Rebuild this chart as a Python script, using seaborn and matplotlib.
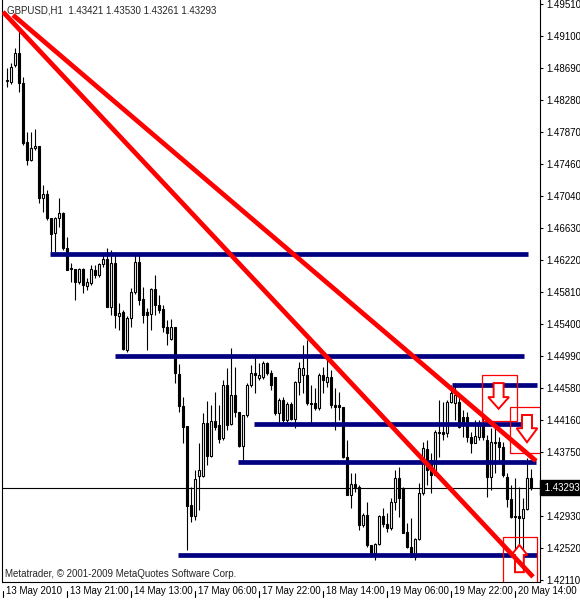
import numpy as np
import pandas as pd
import matplotlib
matplotlib.use("Agg")
import matplotlib.pyplot as plt
import matplotlib.transforms as mtrans
from matplotlib.patches import Rectangle, Polygon
import seaborn as sns

# GBPUSD H1 bars, 13 May 2010 - 20 May 2010
opens = [1.4852, 1.4851, 1.4873, 1.4888, 1.4850, 1.4774, 1.4751, 1.4766, 1.4769, 1.4702,
         1.4707, 1.4676, 1.4657, 1.4676, 1.4683, 1.4638, 1.4612, 1.4611, 1.4594, 1.4611,
         1.4589, 1.4593, 1.4609, 1.4603, 1.4617, 1.4624, 1.4562, 1.4618, 1.4550, 1.4555,
         1.4507, 1.4548, 1.4581, 1.4620, 1.4572, 1.4555, 1.4553, 1.4585, 1.4564, 1.4559,
         1.4536, 1.4521, 1.4536, 1.4476, 1.4435, 1.4409, 1.4307, 1.4293, 1.4345, 1.4345,
         1.4413, 1.4370, 1.4415, 1.4410, 1.4394, 1.4462, 1.4412, 1.4449, 1.4427, 1.4383,
         1.4423, 1.4462, 1.4477, 1.4471, 1.4472, 1.4490, 1.4477, 1.4472, 1.4426, 1.4442,
         1.4417, 1.4437, 1.4418, 1.4465, 1.4474, 1.4474, 1.4438, 1.4438, 1.4432, 1.4474,
         1.4465, 1.4472, 1.4436, 1.4436, 1.4433, 1.4369, 1.4320, 1.4334, 1.4331, 1.4282,
         1.4295, 1.4256, 1.4246, 1.4257, 1.4293, 1.4283, 1.4278, 1.4311, 1.4342, 1.4329,
         1.4273, 1.4253, 1.4241, 1.4264, 1.4323, 1.4379, 1.4365, 1.4346, 1.4401, 1.4401,
         1.4400, 1.4440, 1.4438, 1.4440, 1.4421, 1.4421, 1.4395, 1.4387, 1.4395, 1.4410,
         1.4391, 1.4343, 1.4388, 1.4388, 1.4382, 1.4343, 1.4315, 1.4293, 1.4293, 1.4291,
         1.4302, 1.43421]
highs = [1.4869, 1.4875, 1.4895, 1.4917, 1.4857, 1.4787, 1.4787, 1.4791, 1.4769, 1.4719,
         1.4712, 1.4676, 1.4678, 1.4702, 1.4684, 1.4652, 1.4618, 1.4611, 1.4612, 1.4612,
         1.4599, 1.4616, 1.4616, 1.4618, 1.4631, 1.4638, 1.4635, 1.4633, 1.4567, 1.4558,
         1.4550, 1.4586, 1.4631, 1.4631, 1.4588, 1.4561, 1.4586, 1.4603, 1.4577, 1.4564,
         1.4545, 1.4546, 1.4536, 1.4489, 1.4446, 1.4409, 1.4331, 1.4352, 1.4387, 1.4426,
         1.4441, 1.4436, 1.4453, 1.4436, 1.4468, 1.4483, 1.4509, 1.4485, 1.4427, 1.4423,
         1.4464, 1.4487, 1.4498, 1.4490, 1.4492, 1.4491, 1.4481, 1.4472, 1.4445, 1.4446,
         1.4440, 1.4440, 1.4467, 1.4491, 1.4513, 1.4519, 1.4462, 1.4458, 1.4477, 1.4485,
         1.4496, 1.4481, 1.4458, 1.4453, 1.4433, 1.4391, 1.4349, 1.4349, 1.4333, 1.4297,
         1.4311, 1.4256, 1.4259, 1.4295, 1.4303, 1.4297, 1.4316, 1.4352, 1.4356, 1.4331,
         1.4284, 1.4291, 1.4265, 1.4336, 1.4388, 1.4391, 1.4374, 1.4404, 1.4442, 1.4440,
         1.4442, 1.4462, 1.4464, 1.4449, 1.4430, 1.4427, 1.4401, 1.4417, 1.4417, 1.4426,
         1.4397, 1.4406, 1.4408, 1.4395, 1.4388, 1.4349, 1.4333, 1.4342, 1.4331, 1.4316,
         1.4368, 1.43530]
lows = [1.4845, 1.4848, 1.4870, 1.4838, 1.4770, 1.4744, 1.4749, 1.4764, 1.4695, 1.4684,
        1.4674, 1.4633, 1.4633, 1.4665, 1.4635, 1.4609, 1.4594, 1.4571, 1.4591, 1.4580,
        1.4584, 1.4590, 1.4599, 1.4600, 1.4613, 1.4562, 1.4552, 1.4535, 1.4532, 1.4507,
        1.4504, 1.4536, 1.4579, 1.4564, 1.4541, 1.4507, 1.4532, 1.4552, 1.4554, 1.4530,
        1.4513, 1.4519, 1.4464, 1.4427, 1.4387, 1.4250, 1.4286, 1.4288, 1.4301, 1.4343,
        1.4359, 1.4369, 1.4404, 1.4387, 1.4391, 1.4404, 1.4410, 1.4421, 1.4382, 1.4363,
        1.4421, 1.4459, 1.4451, 1.4468, 1.4469, 1.4474, 1.4455, 1.4423, 1.4414, 1.4414,
        1.4414, 1.4417, 1.4406, 1.4449, 1.4451, 1.4436, 1.4410, 1.4430, 1.4430, 1.4451,
        1.4459, 1.4432, 1.4404, 1.4417, 1.4368, 1.4320, 1.4304, 1.4324, 1.4275, 1.4279,
        1.4253, 1.4241, 1.4237, 1.4256, 1.4279, 1.4273, 1.4275, 1.4301, 1.4292, 1.4271,
        1.4252, 1.4241, 1.4237, 1.4262, 1.4320, 1.4333, 1.4323, 1.4346, 1.4369, 1.4391,
        1.4395, 1.4438, 1.4417, 1.4406, 1.4395, 1.4388, 1.4374, 1.4387, 1.4391, 1.4391,
        1.4318, 1.4327, 1.4349, 1.4361, 1.4343, 1.4305, 1.4291, 1.4247, 1.4247, 1.4225,
        1.4301, 1.43261]
closes = [1.4854, 1.4870, 1.4888, 1.4850, 1.4773, 1.4751, 1.4766, 1.4769, 1.4702, 1.4707,
          1.4676, 1.4656, 1.4676, 1.4683, 1.4638, 1.4609, 1.4611, 1.4594, 1.4611, 1.4590,
          1.4594, 1.4611, 1.4603, 1.4617, 1.4624, 1.4562, 1.4618, 1.4552, 1.4554, 1.4508,
          1.4548, 1.4581, 1.4620, 1.4571, 1.4552, 1.4552, 1.4585, 1.4564, 1.4558, 1.4536,
          1.4528, 1.4536, 1.4477, 1.4435, 1.4408, 1.4306, 1.4293, 1.4341, 1.4352, 1.4413,
          1.4370, 1.4415, 1.4408, 1.4392, 1.4462, 1.4410, 1.4449, 1.4427, 1.4383, 1.4423,
          1.4462, 1.4477, 1.4474, 1.4474, 1.4490, 1.4477, 1.4462, 1.4426, 1.4442, 1.4417,
          1.4437, 1.4418, 1.4465, 1.4483, 1.4483, 1.4438, 1.4437, 1.4432, 1.4474, 1.4468,
          1.4472, 1.4436, 1.4433, 1.4433, 1.4369, 1.4320, 1.4334, 1.4331, 1.4282, 1.4295,
          1.4256, 1.4246, 1.4257, 1.4293, 1.4283, 1.4278, 1.4311, 1.4342, 1.4316, 1.4271,
          1.4253, 1.4241, 1.4264, 1.4323, 1.4381, 1.4352, 1.4346, 1.4401, 1.4400, 1.4399,
          1.4440, 1.4451, 1.4449, 1.4408, 1.4410, 1.4395, 1.4387, 1.4396, 1.4410, 1.4395,
          1.4343, 1.4388, 1.4387, 1.4382, 1.4346, 1.4315, 1.4292, 1.4292, 1.4291, 1.4302,
          1.4342, 1.43293]

last_price = 1.43293
header = "GBPUSD,H1  1.43421 1.43530 1.43261 1.43293"

time_labels = ["13 May 2010", "13 May 21:00", "14 May 13:00", "17 May 06:00", "17 May 22:00",
               "18 May 14:00", "19 May 06:00", "19 May 22:00", "20 May 14:00"]
time_pos = [-1, 15, 31, 47, 63, 79, 95, 111, 127]

price_ticks = [1.49510, 1.49100, 1.48690, 1.48280, 1.47870, 1.47460, 1.47040, 1.46630,
               1.46220, 1.45810, 1.45400, 1.44990, 1.44580, 1.44160, 1.43750, 1.43340,
               1.42930, 1.42520, 1.42110]

# horizontal levels: price, first bar, last bar
level_price = [1.4630, 1.4499, 1.4462, 1.4412, 1.4363, 1.4243]
level_start = [10.75, 27, 111.25, 61.75, 57.75, 42.75]
level_end = [130.25, 129.25, 132.5, 131.25, 132.25, 132.5]

# trend lines: bar / price at both ends
trend_bar0 = [-1, 1.5]
trend_bar1 = [131.5, 132.25]
trend_p0 = [1.4941, 1.4937]
trend_p1 = [1.4215, 1.4364]

# red boxes around the signals
box_bar0 = [118.75, 125.75, 124]
box_bar1 = [127.5, 134.5, 132.5]
box_top = [1.4474, 1.4433, 1.4266]
box_bot = [1.4415, 1.4374, 1.4205]

# signal arrows: centre bar, tail, neck, tip, stem / head half widths
arrow_bar = [122.9, 130.0, 128.1]
arrow_tail = [1.4464, 1.4423, 1.4221]
arrow_neck = [1.4446, 1.4406, 1.4243]
arrow_tip = [1.4431, 1.4388, 1.4256]
arrow_sw = [1.25, 1.25, 1.1]
arrow_hw = [2.6, 2.6, 2.0]

sns.set_style("white")
plt.rcParams['font.family'] = ['Liberation Sans', 'DejaVu Sans']
plt.rcParams['font.size'] = 7

fig = plt.figure(figsize=(5.8, 6.0), dpi=100)
ax = fig.add_axes([2/580, 18/600, 538/580, 582/600])

o = np.array(opens)
c = np.array(closes)
x = np.arange(len(o))
up = c >= o
bot = np.minimum(o, c)
h = np.maximum(np.abs(c - o), 0.00003)

ax.vlines(x, lows, highs, color='black', lw=0.8, zorder=2)
ax.bar(x[up], h[up], bottom=bot[up], width=0.6, color='white', edgecolor='black', lw=0.8, zorder=3)
ax.bar(x[~up], h[~up], bottom=bot[~up], width=0.6, color='black', edgecolor='black', lw=0.8, zorder=3)

# current price line
ax.axhline(last_price, color='black', lw=0.8, zorder=1)

lev = pd.DataFrame({'bar': np.ravel(np.column_stack([level_start, level_end])),
                    'price': np.repeat(level_price, 2),
                    'level': np.repeat(np.arange(len(level_price)), 2)})
sns.lineplot(data=lev, x='bar', y='price', units='level', estimator=None, sort=False,
             color='#000080', lw=3.4, solid_capstyle='butt', legend=False, ax=ax, zorder=4)

tr = pd.DataFrame({'bar': np.ravel(np.column_stack([trend_bar0, trend_bar1])),
                   'price': np.ravel(np.column_stack([trend_p0, trend_p1])),
                   'line': np.repeat([0, 1], 2)})

for i in range(len(box_bar0)):
    ax.add_patch(Rectangle((box_bar0[i], box_bot[i]), box_bar1[i] - box_bar0[i],
                           box_top[i] - box_bot[i], fill=False, ec='red', lw=0.9, zorder=5))
    cx, sw, hw = arrow_bar[i], arrow_sw[i], arrow_hw[i]
    pts = [(cx - sw, arrow_tail[i]), (cx + sw, arrow_tail[i]), (cx + sw, arrow_neck[i]),
           (cx + hw, arrow_neck[i]), (cx, arrow_tip[i]), (cx - hw, arrow_neck[i]),
           (cx - sw, arrow_neck[i])]
    ax.add_patch(Polygon(pts, closed=True, fc='white', ec='red', lw=1.4, zorder=5))

sns.lineplot(data=tr, x='bar', y='price', units='line', estimator=None, sort=False,
             color='red', lw=3.4, solid_capstyle='butt', legend=False, ax=ax, zorder=6)

ax.set_xlim(-1.25, 133.25)
ax.set_ylim(1.42084, 1.49563)
ax.set_xlabel('')
ax.set_ylabel('')

for s in ['left', 'bottom', 'right']:
    ax.spines[s].set_visible(True)
    ax.spines[s].set_color('black')
    ax.spines[s].set_linewidth(0.8)
ax.spines['top'].set_visible(False)

ax.yaxis.tick_right()
ax.set_yticks(price_ticks)
ax.set_yticklabels([f"{p:.5f}" for p in price_ticks])
ax.tick_params(axis='y', right=True, left=False, direction='out', length=2.5, width=0.8,
               pad=2, labelsize=7, colors='black')

ax.set_xticks(time_pos)
ax.set_xticklabels(time_labels)
ax.tick_params(axis='x', bottom=True, length=0, pad=3, labelsize=7, colors='black')
off = mtrans.ScaledTranslation(3/100, 0, fig.dpi_scale_trans)
for lab in ax.get_xticklabels():
    lab.set_horizontalalignment('left')
    lab.set_transform(lab.get_transform() + off)
tk = mtrans.blended_transform_factory(ax.transData, ax.transAxes)
for p in time_pos:
    ax.plot([p, p], [-0.015, -0.026], color='black', lw=0.8, transform=tk, clip_on=False)

ax.text(0.0093, 0.99, header, transform=ax.transAxes, ha='left', va='top', fontsize=7, zorder=10)
ax.text(0.0056, 0.009, "Metatrader, \u00a9 2001-2009 MetaQuotes Software Corp.",
        transform=ax.transAxes, ha='left', va='baseline', fontsize=7, zorder=10)

lp = mtrans.blended_transform_factory(ax.transAxes, ax.transData)
ax.text(1.0, last_price, f" {last_price:.5f}", transform=lp + mtrans.ScaledTranslation(2/100, 0, fig.dpi_scale_trans),
        ha='left', va='center', color='white', fontsize=7,
        bbox=dict(boxstyle='square,pad=0.25', fc='black', ec='black'), zorder=10)

fig.savefig('out.png', dpi=100)
